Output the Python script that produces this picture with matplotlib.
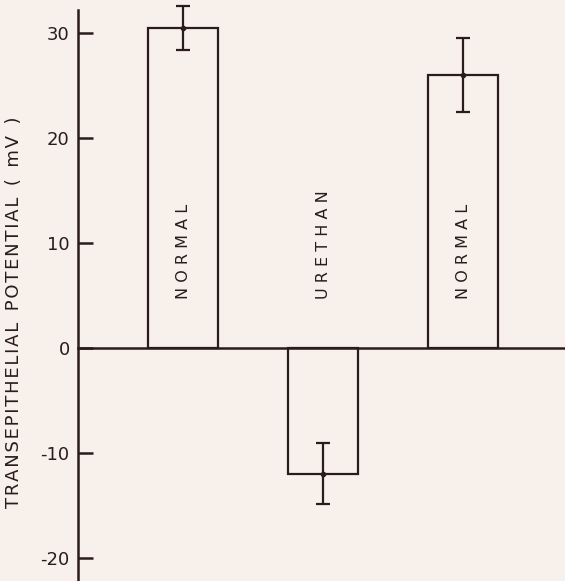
import numpy as np
import matplotlib
matplotlib.use('Agg')
import matplotlib.pyplot as plt

# transepithelial potential per condition
conditions = ['NORMAL', 'URETHAN', 'NORMAL']
potential = [30.5, -12.0, 26.0]
sem = [2.1, 2.9, 3.5]
yticks = [-20, -10, 0, 10, 20, 30]
ylabel = 'TRANSEPITHELIAL POTENTIAL ( mV )'

ink = '#2a1c1c'
paper = '#f8f0ea'


def spaced(s, gap=' '):
    # letter-spaced typewriter look of the original figure
    return gap.join(s)


fig = plt.figure(figsize=(5.65, 5.81), dpi=100, facecolor=paper)
ax = fig.add_axes([0.138, 0.0, 0.862, 0.983], facecolor=paper)

x = np.arange(1, len(conditions) + 1)
ax.bar(x, potential, width=0.5, facecolor='none', edgecolor=ink, linewidth=1.6, zorder=2)
eb = ax.errorbar(x, potential, yerr=sem, fmt='o', ms=3, color=ink, ecolor=ink,
                 elinewidth=1.6, capsize=5, capthick=1.6, zorder=3)
for art in eb.get_children():
    art.set_clip_on(False)

for xi, name in zip(x, conditions):
    ax.text(xi, 4.7, spaced(name), rotation=90, ha='center', va='bottom',
            fontsize=11.5, color=ink, family='DejaVu Sans')

ax.set_xlim(0.25, 3.725)
ax.set_ylim(-22.2, 32.2)
ax.set_yticks(yticks)
ax.set_yticklabels([str(t) for t in yticks], fontsize=13, color=ink)
ax.tick_params(axis='y', direction='in', length=11, width=1.8, color=ink, pad=6)
ax.set_xticks([])

ax.spines['top'].set_visible(False)
ax.spines['right'].set_visible(False)
ax.spines['bottom'].set_position(('data', 0))
ax.spines['bottom'].set_zorder(4)
for s in ('left', 'bottom'):
    ax.spines[s].set_color(ink)
    ax.spines[s].set_linewidth(1.8)

lab = '  '.join(spaced(w, '\u200a') for w in ylabel.split(' '))
ax.set_ylabel(lab, fontsize=13, color=ink)
ax.yaxis.set_label_coords(-0.112, 0.47)

fig.savefig('out.png', dpi=100, facecolor=paper)
